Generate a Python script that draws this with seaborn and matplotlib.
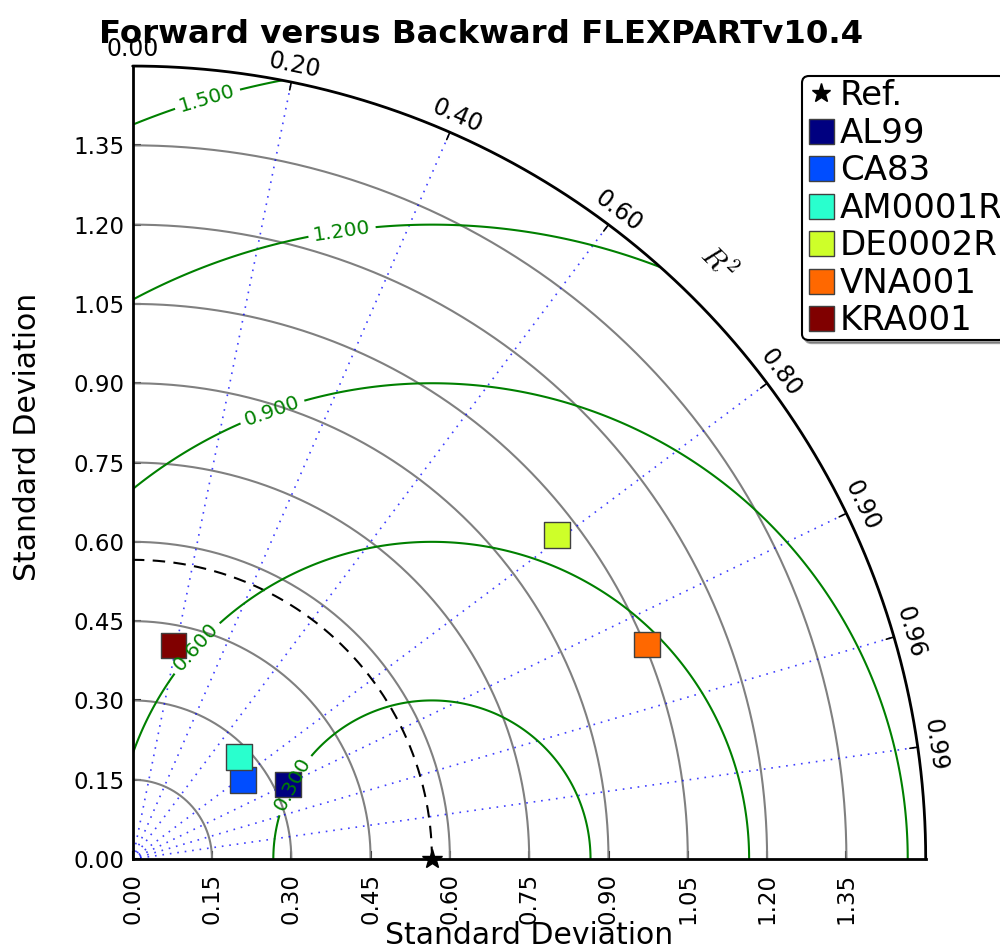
import numpy as np
import pandas as pd
import matplotlib
matplotlib.use("Agg")
import matplotlib.pyplot as plt
from matplotlib.lines import Line2D
from matplotlib.patches import Wedge
import seaborn as sns

# Station statistics (normalised std dev, correlation)
stations = ["AL99", "CA83", "AM0001R", "DE0002R", "VNA001", "KRA001"]
std_dev = [0.326, 0.257, 0.279, 1.010, 1.054, 0.411]
corr = [0.902, 0.814, 0.721, 0.795, 0.923, 0.187]
ref_std = 0.566

# Axis setup
std_max = 1.5
std_ticks = [0.00, 0.15, 0.30, 0.45, 0.60, 0.75, 0.90, 1.05, 1.20, 1.35]
corr_ticks = [0.0, 0.2, 0.4, 0.6, 0.8, 0.9, 0.96, 0.99]
rms_levels = [0.3, 0.6, 0.9, 1.2, 1.5]
rms_label_pos = [(0.298, 0.144), (0.12, 0.40), (0.262, 0.852), (0.395, 1.193), (0.139, 1.446)]

sns.set_style("ticks")
plt.rcParams['font.family'] = ['DejaVu Sans']
plt.rcParams['mathtext.fontset'] = 'cm'
plt.rcParams['text.color'] = 'black'
plt.rcParams['axes.labelcolor'] = 'black'

colors = plt.get_cmap('jet')(np.linspace(0, 1, len(stations)))
palette = dict(zip(stations, colors))

df = pd.DataFrame({"station": stations, "std": std_dev, "corr": corr})
df["x"] = df["std"] * df["corr"]
df["y"] = df["std"] * np.sqrt(1 - df["corr"] ** 2)

fig = plt.figure(figsize=(10, 9.49), dpi=100)
ax = fig.add_axes([0.1327, 0.0948, 0.793, 0.8356])
ax.set_xlim(0, std_max)
ax.set_ylim(0, std_max)
for s in ["top", "right"]:
    ax.spines[s].set_visible(False)
for s in ["left", "bottom"]:
    ax.spines[s].set_color("black")
    ax.spines[s].set_linewidth(2)

th = np.linspace(0, np.pi / 2, 400)

# std dev arcs
for r in std_ticks[1:]:
    ax.plot(r * np.cos(th), r * np.sin(th), color="gray", lw=1.5, zorder=1)

# outer boundary
ax.plot(std_max * np.cos(th), std_max * np.sin(th), color="black", lw=2, clip_on=False, zorder=3)

# correlation rays, ticks and labels
for c in corr_ticks:
    a = np.arccos(c)
    if c > 0:
        ax.plot([0, std_max * np.cos(a)], [0, std_max * np.sin(a)], color="blue",
                lw=1.2, linestyle=(0, (1, 3.5)), alpha=0.75, zorder=1)
        ax.plot([(std_max - 0.015) * np.cos(a), std_max * np.cos(a)],
                [(std_max - 0.015) * np.sin(a), std_max * np.sin(a)], color="black", lw=1.2)
    ax.text(1.533 * np.cos(a), 1.533 * np.sin(a), f"{c:.2f}", rotation=np.degrees(a) - 90,
            ha="center", va="center", rotation_mode="anchor", fontsize=17)

a = np.radians(45.5)
ax.text(1.58 * np.cos(a), 1.58 * np.sin(a), r"$R^2$", rotation=-45, ha="center", va="center",
        rotation_mode="anchor", fontsize=21)

# reference std arc
ax.plot(ref_std * np.cos(th), ref_std * np.sin(th), color="black", lw=1.5, dashes=(6, 4), zorder=2)

# centred RMS contours
gx, gy = np.meshgrid(np.linspace(0, std_max, 700), np.linspace(0, std_max, 700))
rms = np.hypot(gx - ref_std, gy)
cs = ax.contour(gx, gy, rms, levels=rms_levels, colors="green", linewidths=1.5, zorder=2)
cs.set_clip_path(Wedge((0, 0), std_max, 0, 90, transform=ax.transData))
labels = ax.clabel(cs, fmt="%.3f", fontsize=14.5, inline=True, manual=rms_label_pos)
for t in labels:
    t.set_zorder(8)

# stations
sns.scatterplot(data=df, x="x", y="y", hue="station", palette=palette, marker="s", s=340,
                edgecolor="#404040", linewidth=1, legend=False, zorder=5, ax=ax)
ax.plot(ref_std, 0, marker="*", color="black", ms=15, ls="", clip_on=False, zorder=6)

ax.set_xticks(std_ticks)
ax.set_yticks(std_ticks)
ax.set_xticklabels([f"{t:.2f}" for t in std_ticks])
ax.set_yticklabels([f"{t:.2f}" for t in std_ticks])
ax.tick_params(direction="in", length=6, width=1.5, labelsize=16.5, colors="black")
ax.tick_params(axis="x", labelrotation=90, pad=10)
ax.tick_params(axis="y", pad=6)

ax.set_xlabel("Standard Deviation", fontsize=21.5, va="baseline")
ax.xaxis.set_label_coords(0.5, -0.107)
ax.set_ylabel("Standard Deviation", fontsize=21.5)
ax.yaxis.set_label_coords(-0.114, 0.532)

fig.text(0.481, 1 - 43 / 949, "Forward versus Backward FLEXPARTv10.4", ha="center",
         va="baseline", fontsize=23.3, fontweight="bold")

handles = [Line2D([], [], marker="*", color="black", ls="", ms=14, label="Ref.")]
for name in stations:
    handles.append(Line2D([], [], marker="s", ls="", ms=18, markerfacecolor=palette[name],
                          markeredgecolor="#404040", label=name))
leg = ax.legend(handles=handles, loc="upper left", bbox_to_anchor=(0.802, 1 - 76 / 949),
                bbox_transform=fig.transFigure, fontsize=24.5, frameon=True, fancybox=True,
                shadow=True, borderpad=0.1, labelspacing=0.13, handlelength=0.94,
                handletextpad=0.08, borderaxespad=0, framealpha=1)
leg.get_frame().set_edgecolor("black")
leg.get_frame().set_linewidth(1.5)

fig.savefig("out.png", dpi=100)
